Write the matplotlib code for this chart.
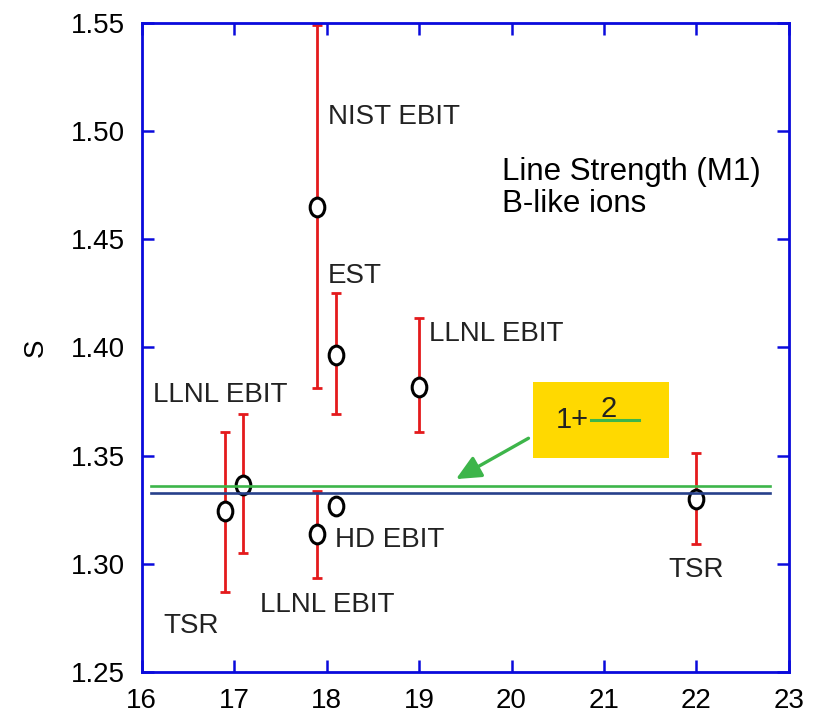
import matplotlib
matplotlib.use("Agg")
import matplotlib.pyplot as plt
from matplotlib.markers import MarkerStyle
from matplotlib.transforms import Affine2D

plt.rcParams["font.family"] = ["Liberation Sans", "DejaVu Sans"]

# atomic number Z, line strength S and error bar ends
z_values = [16.9, 17.1, 17.9, 17.9, 18.1, 19.0, 22.0]
s_values = [1.3243, 1.3364, 1.4649, 1.3135, 1.3965, 1.3818, 1.3299]
s_low = [1.2868, 1.3050, 1.3811, 1.2933, 1.3693, 1.3610, 1.3092]
s_high = [1.3610, 1.3693, 1.5490, 1.3337, 1.4250, 1.4135, 1.3510]

# HD EBIT point (no error bar drawn)
hd_z = [18.1]
hd_s = [1.3268]

# theory lines
theory_z = [16.1, 22.8]
green_s = 1.3360
blue_s = 1.3325

labels = [
    ("NIST EBIT", 18.01, 1.5034),
    ("EST", 18.01, 1.4298),
    ("LLNL EBIT", 19.11, 1.4030),
    ("LLNL EBIT", 16.125, 1.3749),
    ("HD EBIT", 18.09, 1.3078),
    ("LLNL EBIT", 17.277, 1.2777),
    ("TSR", 16.233, 1.2677),
    ("TSR", 21.70, 1.2939),
]

AXIS_BLUE = "#0a0adc"
RED = "#e41a1c"
GREEN = "#3db54a"
NAVY = "#27408b"
TEXT = "#222222"


def main():
    fig = plt.figure(figsize=(8.18, 7.15), dpi=100)
    ax = fig.add_axes([0.1732, 0.0606, 0.7913, 0.9068])

    yerr = [
        [s - lo for s, lo in zip(s_values, s_low)],
        [hi - s for s, hi in zip(s_values, s_high)],
    ]
    ax.errorbar(z_values, s_values, yerr=yerr, fmt="none", ecolor=RED,
                elinewidth=2.0, capsize=3.8, capthick=2.0, zorder=2)

    marker = MarkerStyle("o", transform=Affine2D().scale(0.78, 1.0))
    ax.plot(z_values + hd_z, s_values + hd_s, linestyle="none", marker=marker,
            markersize=13.5, markerfacecolor="white", markeredgecolor="black",
            markeredgewidth=2.2, zorder=3)

    ax.plot(theory_z, [green_s, green_s], color=GREEN, lw=1.9, zorder=4)
    ax.plot(theory_z, [blue_s, blue_s], color=NAVY, lw=1.9, zorder=4)

    for text, x, y in labels:
        ax.text(x, y, text, fontsize=20, color=TEXT, ha="left", va="baseline")

    ax.text(19.90, 1.4775, "Line Strength (M1)", fontsize=22.5, color="black",
            ha="left", va="baseline")
    ax.text(19.90, 1.4628, "B-like ions", fontsize=22.5, color="black",
            ha="left", va="baseline")

    # yellow box with formula
    ax.fill_between([20.237, 21.70], 1.3487, 1.3839, color="#ffd900",
                    lw=0, zorder=1)
    ax.text(20.478, 1.3627, "1+", fontsize=21, color=TEXT, ha="left",
            va="baseline", zorder=5)
    ax.text(20.964, 1.3680, "2", fontsize=21, color=TEXT, ha="left",
            va="baseline", zorder=5)
    ax.plot([20.862, 21.377], [1.3664, 1.3664], color=GREEN, lw=2.2, zorder=5)
    ax.annotate("", xy=(19.399, 1.3391), xytext=(20.183, 1.3580),
                arrowprops=dict(arrowstyle="-|>,head_length=1.5,head_width=0.7",
                                color=GREEN, lw=2.4, shrinkA=0, shrinkB=0),
                zorder=5)

    ax.set_xlim(16, 23)
    ax.set_ylim(1.25, 1.55)
    ax.set_xticks(range(16, 24))
    ax.set_yticks([1.25, 1.30, 1.35, 1.40, 1.45, 1.50, 1.55])
    ax.set_yticklabels(["1.25", "1.30", "1.35", "1.40", "1.45", "1.50", "1.55"])

    for spine in ax.spines.values():
        spine.set_color(AXIS_BLUE)
        spine.set_linewidth(2.0)
    ax.tick_params(direction="in", length=8.5, width=1.8, color=AXIS_BLUE,
                   top=True, right=True, labelsize=20, labelcolor="black")
    ax.tick_params(axis="x", pad=12)
    ax.tick_params(axis="y", pad=12)

    ax.set_ylabel("S", fontsize=20, labelpad=16)

    fig.savefig("out.png", dpi=100)
    plt.close(fig)


if __name__ == "__main__":
    main()
